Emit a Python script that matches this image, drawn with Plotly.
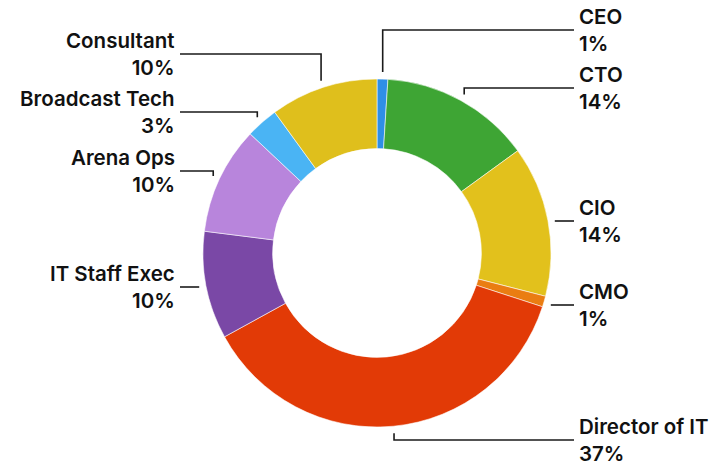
import math

import plotly.graph_objects as go

# data
roles = ["CEO", "CTO", "CIO", "CMO", "Director of IT",
         "IT Staff Exec", "Arena Ops", "Broadcast Tech", "Consultant"]
shares = [1, 14, 14, 1, 37, 10, 10, 3, 10]
colors = ["#2f8fe6", "#3ea534", "#e2c11c", "#ea7d12", "#e23a06",
          "#7a48a6", "#b885dc", "#4ab4f4", "#dfbf1c"]

# layout, in window pixels (the page body adds an 8px margin)
W, H = 718, 461
OFF = 8
cx, cy, R = 377, 253, 174
label_y = [30, 88, 221, 305, 440, 287, 171, 112, 54]
label_side = ["right"] * 5 + ["left"] * 4
font = dict(family="Inter", size=20.5, color="#111111", weight=600)

fig = go.Figure()

fig.add_trace(go.Pie(
    labels=roles,
    values=shares,
    hole=0.6,
    sort=False,
    direction="clockwise",
    rotation=0,
    textinfo="none",
    marker=dict(colors=colors, line=dict(color="rgba(255,255,255,0.7)", width=0.8)),
    domain=dict(x=[(cx - R - OFF) / W, (cx + R - OFF) / W],
                y=[(H - cy + OFF - R) / H, (H - cy + OFF + R) / H]),
    showlegend=False,
))

# leader lines + labels
total = sum(shares)
cum = 0
for role, v, ly, side in zip(roles, shares, label_y, label_side):
    theta = 2 * math.pi * (cum + v / 2) / total
    cum += v
    r = R + 7
    px0 = cx + r * math.sin(theta)
    py0 = cy - r * math.cos(theta)
    end_x = 574 if side == "right" else 180
    if abs(py0 - ly) > 3:
        xs, ys = [px0, px0, end_x], [py0, ly, ly]
    else:
        xs, ys = [px0, end_x], [ly, ly]
    fig.add_trace(go.Scatter(
        x=xs, y=ys, mode="lines",
        line=dict(color="#1a1a1a", width=1.6),
        hoverinfo="skip", showlegend=False,
    ))
    fig.add_annotation(
        x=577 if side == "right" else 177,
        y=ly,
        xref="x", yref="y",
        text=f"{role}<br>{round(v / total * 100)}%",
        showarrow=False,
        xanchor="left" if side == "right" else "right",
        yanchor="middle",
        align="left" if side == "right" else "right",
        font=font,
    )

fig.update_layout(
    width=W,
    height=H,
    margin=dict(l=0, r=0, t=0, b=0),
    paper_bgcolor="white",
    plot_bgcolor="rgba(0,0,0,0)",
    xaxis=dict(range=[OFF, W + OFF], visible=False, fixedrange=True),
    yaxis=dict(range=[H + OFF, OFF], visible=False, fixedrange=True),
)

fig.write_html("out.html")
